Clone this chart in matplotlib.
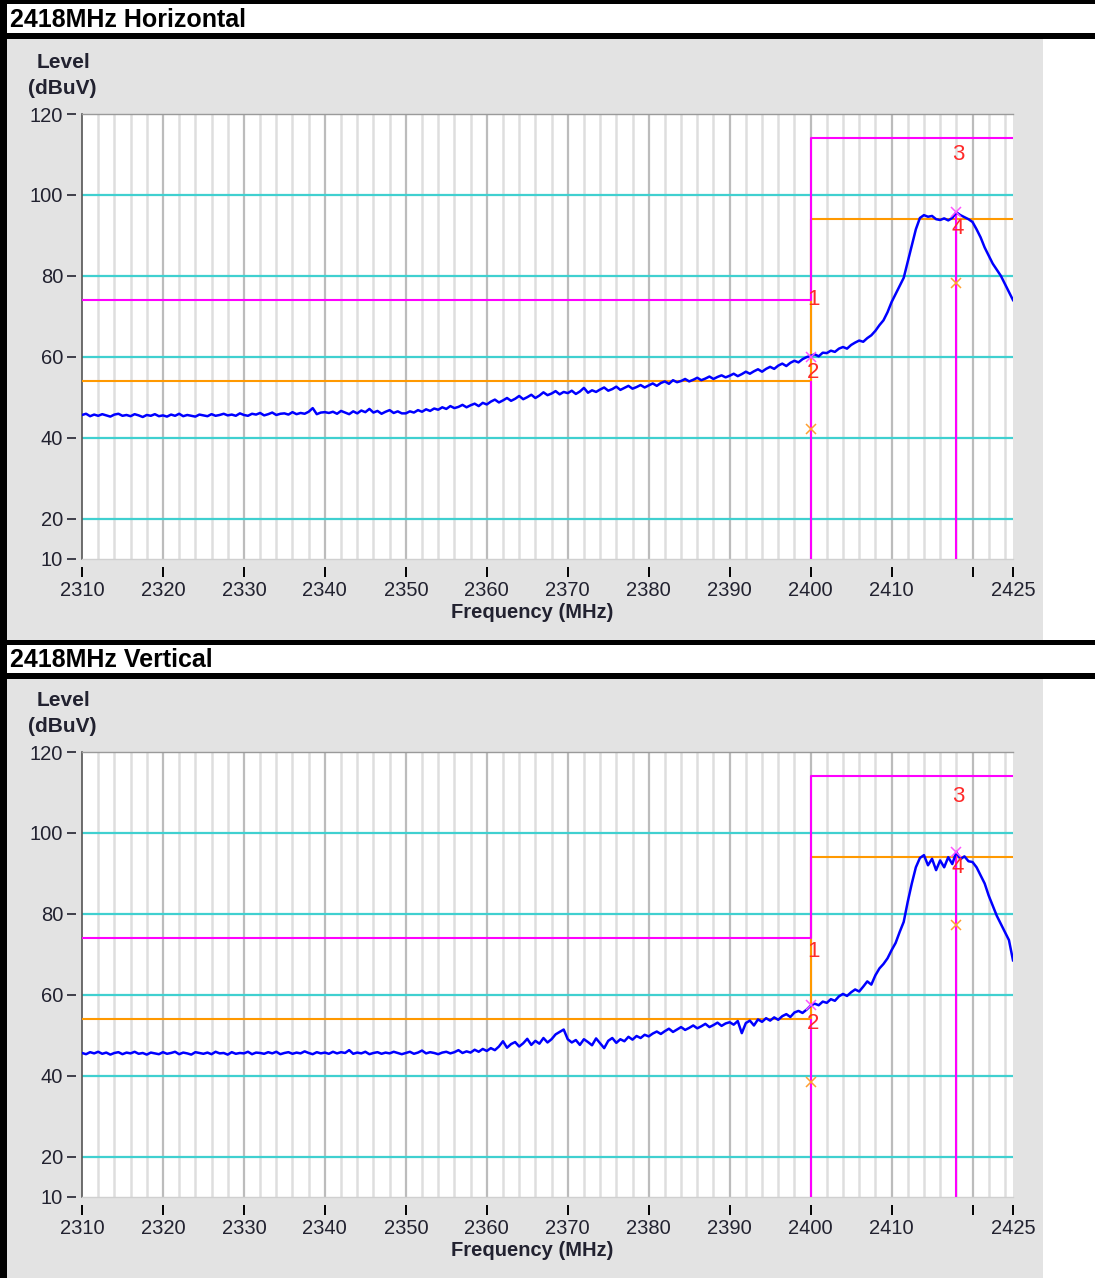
import numpy as np
import matplotlib
matplotlib.use('Agg')
import matplotlib.pyplot as plt
from matplotlib.patches import Rectangle

plt.rcParams['font.family'] = ['Liberation Sans', 'DejaVu Sans']

# ---------------- data ----------------
freq_start, freq_stop = 2310.0, 2425.0

level_h = [
    45.6, 45.9, 45.3, 45.7, 45.4, 45.8, 45.5, 45.2, 45.7, 45.9, 45.4, 45.6, 45.3, 45.8, 45.5, 45.1, 45.6, 45.4, 45.8, 45.3,
    45.5, 45.2, 45.7, 45.4, 45.9, 45.3, 45.6, 45.4, 45.2, 45.7, 45.5, 45.3, 45.8, 45.4, 45.6, 45.9, 45.5, 45.7, 45.4, 46.0,
    45.6, 45.4, 45.9, 45.7, 46.1, 45.5, 45.8, 46.2, 45.6, 45.9, 46.0, 45.7, 46.3, 45.8, 46.1, 45.9, 46.4, 47.3, 45.8, 46.2,
    46.3, 46.1, 46.4, 45.9, 46.6, 46.2, 45.8, 46.5, 46.0, 46.7, 46.3, 47.1, 46.2, 46.6, 45.9, 46.4, 46.8, 46.1, 46.5, 46.0,
    46.0, 46.5, 46.2, 46.8, 46.4, 47.0, 46.6, 47.2, 46.9, 47.5, 47.1, 47.8, 47.3, 47.6, 48.1, 47.5, 48.0, 48.4, 47.8, 48.6,
    48.2, 48.9, 49.4, 48.7, 49.2, 49.8, 49.1, 49.6, 50.3, 49.5, 50.0, 50.6, 49.8, 50.4, 51.2, 50.5, 50.9, 51.5, 50.7, 51.3,
    51.0, 51.6, 50.8, 51.4, 52.3, 51.1, 51.7, 51.3, 51.9, 52.4, 51.6, 52.0, 52.6, 51.8, 52.3, 52.8, 52.1, 52.5, 53.0, 52.4,
    52.9, 53.4, 52.8, 53.5, 53.9, 53.3, 54.2, 53.7, 54.0, 54.5, 53.9, 54.3, 54.8, 54.2, 54.6, 55.1, 54.5, 55.0, 55.4, 54.9,
    55.3, 55.8, 55.2, 55.7, 56.3, 55.8, 56.4, 56.9, 56.3, 57.0, 57.5, 57.0, 57.8, 58.3, 57.7, 58.5, 59.0, 58.6, 59.4, 59.9,
    60.2, 60.6, 60.1, 61.0, 60.9, 61.5, 61.2, 62.0, 62.4, 62.0, 62.9, 63.5, 64.0, 63.7, 64.6, 65.3, 66.4, 67.8, 69.0, 71.0,
    73.5, 75.5, 77.5, 79.5, 83.5, 87.5, 91.5, 94.3, 95.0, 94.6, 94.8, 94.0, 93.8, 94.2, 93.7, 94.3, 95.7, 95.0, 94.5, 94.0,
    93.3, 91.5, 89.5, 87.0, 85.0, 83.0, 81.5, 80.0, 78.0, 76.0, 74.0,
]

level_v = [
    45.6, 45.3, 45.8, 45.5, 45.9, 45.4, 45.7, 45.2, 45.6, 45.8, 45.3, 45.7, 45.5, 45.9, 45.4, 45.6, 45.2, 45.7, 45.5, 45.3,
    45.8, 45.4, 45.6, 45.9, 45.3, 45.7, 45.5, 45.2, 45.8, 45.6, 45.4, 45.7, 45.3, 45.9, 45.5, 45.6, 45.2, 45.8, 45.4, 45.6,
    45.5, 45.9, 45.3, 45.7, 45.6, 45.4, 45.8, 45.5, 45.9, 45.3, 45.6, 45.8, 45.4, 45.7, 45.5, 46.0, 45.6, 45.3, 45.8, 45.5,
    45.7, 45.4, 45.9, 45.5, 45.8, 45.6, 46.3, 45.4, 45.7, 45.5, 45.9, 45.3, 45.6, 45.8, 45.4, 45.7, 45.5, 45.9, 45.6, 45.3,
    45.6, 45.9, 45.4, 45.7, 46.2, 45.5, 45.8, 45.6, 45.3, 45.7, 45.9, 45.5, 45.8, 46.3, 45.6, 46.0, 45.7, 46.4, 45.9, 46.6,
    46.1, 46.8, 46.3, 47.2, 48.5, 46.9, 47.8, 48.3, 47.2, 48.0, 49.1, 47.6, 48.6, 47.9, 49.3, 48.2, 49.0, 50.2, 50.8, 51.4,
    49.0, 48.2, 48.8, 47.6, 49.0, 48.3, 47.5, 49.2, 48.0, 46.8, 48.6, 49.3, 48.1, 49.0, 48.5, 49.6, 48.9, 49.8, 49.3, 50.1,
    49.7, 50.4, 50.9, 50.3, 51.0, 51.6, 50.8, 51.4, 52.0, 51.3, 51.8, 52.4, 51.7, 52.2, 52.8, 52.0, 52.5, 53.1, 52.3, 52.9,
    53.2, 52.6, 53.5, 50.5, 53.0, 53.6, 52.4, 53.9, 53.3, 54.2, 53.6, 54.4, 53.8, 54.7, 55.2, 54.5, 55.6, 56.0, 55.5, 56.3,
    57.3, 57.8, 57.4, 58.3, 58.0, 58.9, 58.5, 59.6, 60.2, 59.7, 60.6, 61.3, 60.8, 62.0, 63.3, 62.5, 64.8, 66.5, 67.6, 69.0,
    71.0, 72.8, 75.5, 78.0, 83.0, 87.5, 91.5, 93.8, 94.5, 92.0, 93.6, 90.8, 93.2, 91.5, 94.0, 92.3, 95.3, 93.5, 94.2, 93.0,
    92.8, 91.5, 89.5, 87.5, 84.5, 82.0, 79.5, 77.5, 75.5, 73.5, 68.5,
]

x_ticks = [2310, 2320, 2330, 2340, 2350, 2360, 2370, 2380, 2390, 2400, 2410, 2420, 2425]
x_tick_labels = ['2310', '2320', '2330', '2340', '2350', '2360', '2370', '2380', '2390',
                 '2400', '2410', '', '2425']
y_ticks = [10, 20, 40, 60, 80, 100, 120]
y_ref_lines = [20, 40, 60, 80, 100]

limit_freq = [2310, 2400, 2400, 2425]
peak_limit = [74, 74, 114, 114]
avg_limit = [54, 54, 94, 94]

marker_freq = [2400, 2418]
h_peak_marks = [59.9, 95.8]
h_avg_marks = [42.2, 78.3]
v_peak_marks = [57.4, 95.3]
v_avg_marks = [38.5, 77.3]

label_ids = ['1', '2', '3', '4']
label_freqs = [2400.3, 2400.3, 2418.2, 2418.2]
h_label_levels = [74.1, 56.0, 109.9, 91.6]
v_label_levels = [70.6, 52.8, 108.9, 91.4]

titles = ['2418MHz Horizontal', '2418MHz Vertical']

# ---------------- layout ----------------
W, H = 1095, 1278
fig = plt.figure(figsize=(W / 100, H / 100), dpi=100)
fig.patch.set_facecolor('white')


def fx(x):
    return x / W


def fy(y):
    return 1 - y / H


def rect(x0, y0, x1, y1, color):
    fig.add_artist(Rectangle((fx(x0), fy(y1)), (x1 - x0) / W, (y1 - y0) / H,
                             transform=fig.transFigure, facecolor=color,
                             edgecolor='none', zorder=-1))


# frame
rect(0, 0, W, 4, 'black')
rect(0, 33, W, 39, 'black')
rect(7, 39, 1043, 640, '#e3e3e3')
rect(0, 640, W, 645, 'black')
rect(0, 673, W, 679, 'black')
rect(7, 679, 1043, H, '#e3e3e3')
rect(0, 0, 7, H, 'black')

txt_col = '#222230'


def draw_panel(off, title_off, title, level, peak_marks, avg_marks, label_levels):
    fig.text(fx(10), fy(20 + title_off), title, fontsize=18, fontweight='bold',
             ha='left', va='center', color='black')
    fig.text(fx(63), fy(62 + off), 'Level', fontsize=15, fontweight='bold',
             ha='center', va='center', color=txt_col)
    fig.text(fx(62), fy(88 + off), '(dBuV)', fontsize=15, fontweight='bold',
             ha='center', va='center', color=txt_col)
    fig.text(fx(532), fy(613 + off), 'Frequency (MHz)', fontsize=14.5,
             fontweight='bold', ha='center', va='center', color=txt_col)

    ax = fig.add_axes([fx(82), fy(559 + off), (1013 - 82) / W, (559 - 114) / H])
    ax.set_facecolor('white')
    ax.set_xlim(freq_start, freq_stop)
    ax.set_ylim(10, 120)
    for s in ax.spines.values():
        s.set_visible(False)
    ax.spines['bottom'].set_position(('outward', 6))
    ax.spines['left'].set_position(('outward', 4))

    ax.set_xticks(x_ticks)
    ax.set_xticklabels(x_tick_labels)
    ax.set_yticks(y_ticks)
    ax.set_yticklabels([str(v) for v in y_ticks])
    ax.tick_params(axis='x', length=7, width=1.4, pad=3, labelsize=14.5,
                   color='black', labelcolor=txt_col)
    ax.tick_params(axis='y', length=6.5, width=1.2, pad=3, labelsize=14.5,
                   color=txt_col, labelcolor=txt_col)

    # vertical grid every 2 MHz, darker every 10 MHz
    for f in range(2312, 2425, 2):
        if f % 10 == 0:
            ax.axvline(f, color='#bcbcbc', lw=1.6, zorder=1)
        else:
            ax.axvline(f, color='#dedede', lw=1.8, zorder=1)
    for lv in y_ref_lines:
        ax.axhline(lv, color='#40d0d0', lw=1.6, zorder=2)

    # axes frame lines
    ax.plot([0, 0], [0, 1], transform=ax.transAxes, color='#555555', lw=1.2,
            clip_on=False, zorder=2)
    ax.plot([0, 1], [1, 1], transform=ax.transAxes, color='#9a9a9a', lw=1.0,
            clip_on=False, zorder=2)
    ax.plot([0, 1], [0, 0], transform=ax.transAxes, color='#d0d0d0', lw=1.0,
            clip_on=False, zorder=2)

    # limits
    ax.plot(limit_freq, avg_limit, color='#ff9900', lw=1.5, zorder=3)
    ax.plot(limit_freq, peak_limit, color='#ff00ff', lw=1.5, zorder=3.1)
    ax.vlines(marker_freq[0], 10, avg_limit[0], color='#ff00ff', lw=1.5, zorder=3.1)
    ax.vlines(marker_freq[1], 10, peak_marks[1], color='#ff00ff', lw=1.5, zorder=3.1)

    # trace
    freq = np.linspace(freq_start, freq_stop, len(level))
    ax.plot(freq, level, color='#0000ff', lw=1.8, zorder=4)

    # markers
    ax.plot(marker_freq, peak_marks, 'x', color='#ff55ff', ms=6.5, mew=1.1, zorder=5)
    ax.plot(marker_freq, avg_marks, 'x', color='#ffa030', ms=6.5, mew=1.1, zorder=5)
    for lid, lf, ll in zip(label_ids, label_freqs, label_levels):
        ax.text(lf, ll, lid, color='#ff2a2a', fontsize=16, ha='center',
                va='center', zorder=6)
    return ax


draw_panel(0, 0, titles[0], level_h, h_peak_marks, h_avg_marks, h_label_levels)
draw_panel(638, 640, titles[1], level_v, v_peak_marks, v_avg_marks, v_label_levels)

fig.savefig('out.png', dpi=100, facecolor='white')
